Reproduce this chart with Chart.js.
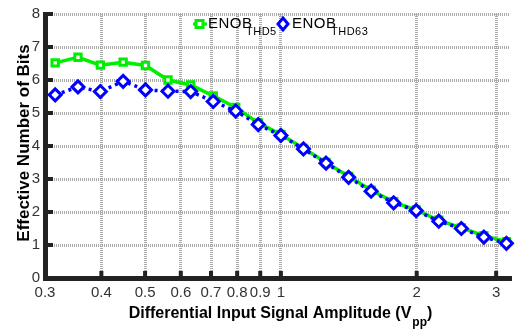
<!DOCTYPE html>
<html>
<head>
<meta charset="utf-8">
<script src="https://cdn.jsdelivr.net/npm/chart.js@4/dist/chart.umd.min.js"></script>
<style>
  html, body { margin: 0; padding: 0; background: #fff; }
  #wrap { width: 526px; height: 331px; }
</style>
</head>
<body>
<div id="wrap"><canvas id="c"></canvas></div>
<script>
// Input amplitude (Vpp), ENOB values
const amplitude = [0.316, 0.355, 0.398, 0.447, 0.501, 0.562, 0.631, 0.708, 0.794, 0.891, 1.0,
                   1.122, 1.259, 1.413, 1.585, 1.778, 1.995, 2.239, 2.512, 2.818, 3.162];
const enobThd5  = [6.52, 6.69, 6.45, 6.54, 6.44, 6.00, 5.85, 5.52, 5.17, 4.70, 4.35,
                   3.93, 3.50, 3.08, 2.66, 2.31, 2.06, 1.75, 1.52, 1.28, 1.10];
const enobThd63 = [5.55, 5.79, 5.65, 5.96, 5.70, 5.66, 5.65, 5.35, 5.06, 4.65, 4.32,
                   3.91, 3.48, 3.05, 2.63, 2.28, 2.04, 1.72, 1.50, 1.24, 1.05];
const xTicks = [0.3, 0.4, 0.5, 0.6, 0.7, 0.8, 0.9, 1, 2, 3];
const yTicks = [0, 1, 2, 3, 4, 5, 6, 7, 8];

const FONT = '"Liberation Sans", Arial, sans-serif';
const GREEN = '#00ee00';
const BLUE = '#0000ff';

const pts = ys => amplitude.map((x, i) => ({ x: x, y: ys[i] }));

// draws inward tick marks, legend with subscripts and the axis titles
const decorations = {
  id: 'decorations',
  afterDraw(chart) {
    const ctx = chart.ctx;
    const area = chart.chartArea;
    const xs = chart.scales.x, ys = chart.scales.y;
    ctx.save();

    // inward ticks
    ctx.fillStyle = '#222';
    xTicks.forEach(v => {
      const px = xs.getPixelForValue(v);
      if (px > area.left + 3) ctx.fillRect(px - 2, area.bottom - 7, 4, 7);
    });
    yTicks.forEach(v => {
      const py = ys.getPixelForValue(v);
      if (py < area.bottom - 3) ctx.fillRect(area.left, py - 2, 8, 4);
    });

    // legend
    const ly = 24;
    ctx.lineWidth = 3;
    ctx.strokeStyle = GREEN;
    ctx.beginPath(); ctx.moveTo(193, ly); ctx.lineTo(207, ly); ctx.stroke();
    ctx.fillStyle = '#fff';
    ctx.fillRect(196, ly - 3.5, 7, 7);
    ctx.strokeRect(196, ly - 3.5, 7, 7);

    ctx.strokeStyle = BLUE;
    ctx.beginPath();
    ctx.moveTo(283, ly - 6); ctx.lineTo(288, ly); ctx.lineTo(283, ly + 6); ctx.lineTo(278, ly);
    ctx.closePath(); ctx.fill(); ctx.stroke();

    ctx.fillStyle = '#000';
    ctx.textBaseline = 'alphabetic';
    ctx.textAlign = 'left';
    ctx.letterSpacing = '0.5px';
    ctx.font = '15px ' + FONT;
    ctx.fillText('ENOB', 208, 28);
    ctx.fillText('ENOB', 292, 28);
    ctx.font = '11px ' + FONT;
    ctx.fillText('THD5', 246, 35);
    ctx.fillText('THD63', 331, 35);
    ctx.letterSpacing = '0px';

    // x title with subscript
    ctx.font = 'bold 16px ' + FONT;
    const main = 'Differential Input Signal Amplitude (V';
    const w1 = ctx.measureText(main).width;
    ctx.font = 'bold 12px ' + FONT;
    const w2 = ctx.measureText('pp').width;
    ctx.font = 'bold 16px ' + FONT;
    const w3 = ctx.measureText(')').width;
    let tx = 280 - (w1 + w2 + w3) / 2;
    ctx.fillText(main, tx, 318);
    ctx.font = 'bold 12px ' + FONT;
    ctx.fillText('pp', tx + w1 + 1, 326);
    ctx.font = 'bold 16px ' + FONT;
    ctx.fillText(')', tx + w1 + w2 + 1, 318);

    // y title
    ctx.font = 'bold 17px ' + FONT;
    ctx.translate(29, 143);
    ctx.rotate(-Math.PI / 2);
    ctx.textAlign = 'center';
    ctx.fillText('Effective Number of Bits', 0, 0);
    ctx.restore();
  }
};

new Chart(document.getElementById('c'), {
  type: 'line',
  data: {
    datasets: [
      {
        label: 'ENOB THD5',
        data: pts(enobThd5),
        borderColor: GREEN,
        borderWidth: 3.5,
        pointStyle: 'rect',
        pointRadius: 4.5,
        pointBorderWidth: 3,
        pointBackgroundColor: '#fff',
        pointBorderColor: GREEN,
        order: 2,
        clip: false,
      },
      {
        label: 'ENOB THD63',
        data: pts(enobThd63),
        borderColor: BLUE,
        borderWidth: 3.5,
        borderDash: [3, 4],
        pointStyle: 'rectRot',
        pointRadius: 6,
        pointBorderWidth: 3,
        pointBackgroundColor: '#fff',
        pointBorderColor: BLUE,
        order: 1,
        clip: false,
      },
    ],
  },
  options: {
    responsive: true,
    maintainAspectRatio: false,
    animation: false,
    layout: { padding: { top: 8, right: 16, left: 0, bottom: 0 } },
    plugins: { legend: { display: false }, tooltip: { enabled: false } },
    scales: {
      x: {
        type: 'logarithmic',
        min: 0.3,
        max: 3.22,
        afterBuildTicks: s => { s.ticks = xTicks.map(v => ({ value: v })); },
        afterFit: s => { s.height = 53; },
        ticks: {
          autoSkip: false,
          maxRotation: 0,
          padding: 6,
          color: '#333',
          font: { family: FONT, size: 15 },
          callback: v => String(v),
        },
        grid: { color: '#aaa', lineWidth: 3, drawTicks: false },
        border: { color: '#222', width: 5, dash: [1, 1] },
      },
      y: {
        min: 0,
        max: 8,
        afterBuildTicks: s => { s.ticks = yTicks.map(v => ({ value: v })); },
        afterFit: s => { s.width = 45; },
        ticks: {
          padding: 5,
          color: '#333',
          font: { family: FONT, size: 15 },
        },
        grid: { color: '#aaa', lineWidth: 3, drawTicks: false },
        border: { color: '#222', width: 5, dash: [1, 1] },
      },
    },
  },
  plugins: [decorations],
});
</script>
</body>
</html>
